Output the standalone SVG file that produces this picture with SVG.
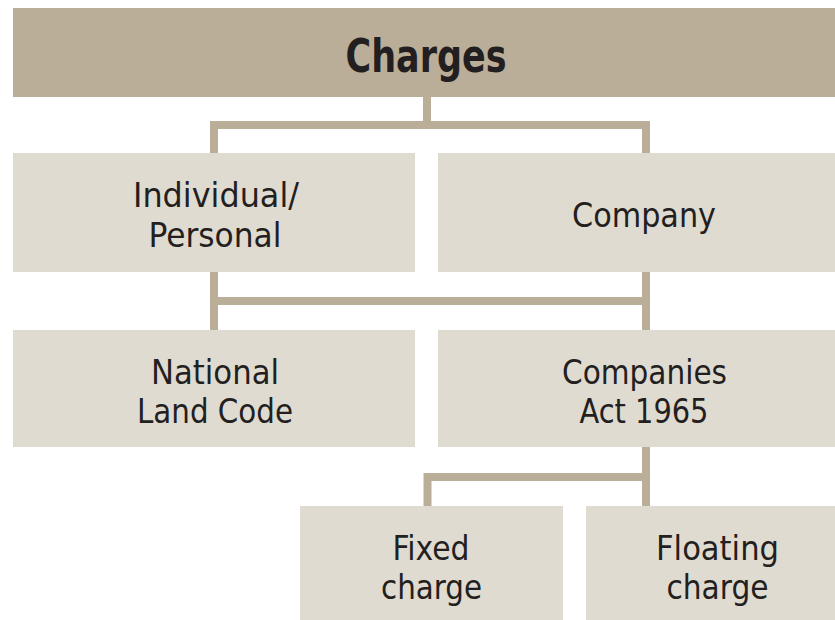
<svg xmlns="http://www.w3.org/2000/svg" width="835" height="620" viewBox="0 0 835 620">
  <style>
    .bar { fill: #BBAE98; }
    .box { fill: #E0DBD0; }
    .link { fill: none; stroke: #BBAE98; stroke-width: 8; stroke-linejoin: miter; stroke-linecap: butt; }
    .title { font-family: "DejaVu Sans Condensed", "DejaVu Sans", sans-serif; font-stretch: condensed; font-weight: 700; font-size: 47px; fill: #231F20; text-anchor: middle; }
    .label { font-family: "DejaVu Sans Condensed", "DejaVu Sans", sans-serif; font-stretch: condensed; font-size: 33px; fill: #231F20; text-anchor: middle; }
  </style>
  <rect width="835" height="620" fill="#FFFFFF"/>

  <!-- connectors -->
  <g id="connectors">
    <path class="link" d="M427,97 V125 M214,153 V125 H646 V153"/>
    <path class="link" d="M214,272 V330 M646,272 V330 M210,301 H650"/>
    <path class="link" d="M646,447 V506 M427.5,506 V477 H650"/>
  </g>

  <g id="charges">
    <rect class="bar" x="13" y="8" width="822" height="89"/>
    <text class="title" x="426" y="72" textLength="161" lengthAdjust="spacingAndGlyphs">Charges</text>
  </g>

  <g id="individual">
    <rect class="box" x="13" y="153" width="402" height="119"/>
    <text class="label" x="216" y="207" textLength="166" lengthAdjust="spacingAndGlyphs">Individual/</text>
    <text class="label" x="215" y="247" textLength="133" lengthAdjust="spacingAndGlyphs">Personal</text>
  </g>

  <g id="company">
    <rect class="box" x="438" y="153" width="397" height="119"/>
    <text class="label" x="644" y="227" textLength="144" lengthAdjust="spacingAndGlyphs">Company</text>
  </g>

  <g id="national-land-code">
    <rect class="box" x="13" y="330" width="402" height="117"/>
    <text class="label" x="215" y="384" textLength="128" lengthAdjust="spacingAndGlyphs">National</text>
    <text class="label" x="215" y="423" textLength="156" lengthAdjust="spacingAndGlyphs">Land Code</text>
  </g>

  <g id="companies-act">
    <rect class="box" x="438" y="330" width="397" height="117"/>
    <text class="label" x="644.5" y="384" textLength="165" lengthAdjust="spacingAndGlyphs">Companies</text>
    <text class="label" x="644" y="423" textLength="129" lengthAdjust="spacingAndGlyphs">Act 1965</text>
  </g>

  <g id="fixed-charge">
    <rect class="box" x="300" y="506" width="263" height="114"/>
    <text class="label" x="431" y="560" textLength="77" lengthAdjust="spacingAndGlyphs">Fixed</text>
    <text class="label" x="431.5" y="599" textLength="101" lengthAdjust="spacingAndGlyphs">charge</text>
  </g>

  <g id="floating-charge">
    <rect class="box" x="586" y="506" width="249" height="114"/>
    <text class="label" x="717.5" y="560" textLength="123" lengthAdjust="spacingAndGlyphs">Floating</text>
    <text class="label" x="717.5" y="599" textLength="102" lengthAdjust="spacingAndGlyphs">charge</text>
  </g>
</svg>
